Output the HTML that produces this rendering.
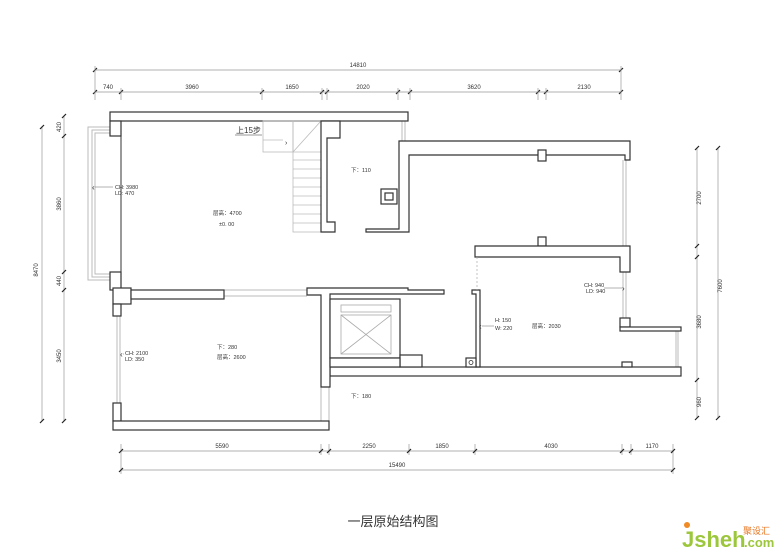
<!DOCTYPE html>
<html><head><meta charset="utf-8"><style>
body{margin:0;background:#fff}
svg{display:block}
text{font-family:"Liberation Sans","Noto Sans CJK SC",sans-serif;fill:#333}
.w{fill:#fff;stroke:#333;stroke-width:1.2}
.d{stroke:#999;stroke-width:0.7;fill:none}
.t{stroke:#222;stroke-width:1.2}
.g{stroke:#bbb;stroke-width:1;fill:none}
</style></head><body>
<svg width="780" height="550" viewBox="0 0 780 550">
<!-- top dims -->
<line class="d" x1="95" y1="70" x2="621" y2="70"/>
<line class="d" x1="95" y1="92" x2="621" y2="92"/>
<g class="t">
<line x1="93" y1="72" x2="97" y2="68"/><line x1="619" y1="72" x2="623" y2="68"/>
<line x1="93" y1="94" x2="97" y2="90"/><line x1="119" y1="94" x2="123" y2="90"/><line x1="260" y1="94" x2="264" y2="90"/><line x1="320" y1="94" x2="324" y2="90"/><line x1="325" y1="94" x2="329" y2="90"/><line x1="396" y1="94" x2="400" y2="90"/><line x1="408" y1="94" x2="412" y2="90"/><line x1="536" y1="94" x2="540" y2="90"/><line x1="544" y1="94" x2="548" y2="90"/><line x1="619" y1="94" x2="623" y2="90"/>
</g>
<g class="d"><line x1="95" y1="66" x2="95" y2="100"/><line x1="621" y1="66" x2="621" y2="100"/><line x1="121" y1="88" x2="121" y2="100"/><line x1="262" y1="88" x2="262" y2="100"/><line x1="322" y1="88" x2="322" y2="100"/><line x1="327" y1="88" x2="327" y2="100"/><line x1="398" y1="88" x2="398" y2="100"/><line x1="410" y1="88" x2="410" y2="100"/><line x1="538" y1="88" x2="538" y2="100"/><line x1="546" y1="88" x2="546" y2="100"/></g>
<g font-size="6" text-anchor="middle">
<text x="358" y="67">14810</text><text x="108" y="89">740</text><text x="192" y="89">3960</text><text x="292" y="89">1650</text><text x="363" y="89">2020</text><text x="474" y="89">3620</text><text x="584" y="89">2130</text>
</g>
<!-- left dims -->
<line class="d" x1="42" y1="127" x2="42" y2="421"/>
<line class="d" x1="64" y1="116" x2="64" y2="421"/>
<g class="t"><line x1="40" y1="129" x2="44" y2="125"/><line x1="40" y1="423" x2="44" y2="419"/><line x1="62" y1="118" x2="66" y2="114"/><line x1="62" y1="138" x2="66" y2="134"/><line x1="62" y1="274" x2="66" y2="270"/><line x1="62" y1="292" x2="66" y2="288"/><line x1="62" y1="423" x2="66" y2="419"/></g>
<g font-size="6" text-anchor="middle">
<text transform="translate(38,270) rotate(-90)">8470</text>
<text transform="translate(61,127) rotate(-90)">420</text>
<text transform="translate(61,204) rotate(-90)">3860</text>
<text transform="translate(61,281) rotate(-90)">440</text>
<text transform="translate(61,356) rotate(-90)">3450</text>
</g>
<!-- right dims -->
<line class="d" x1="697" y1="148" x2="697" y2="418"/>
<line class="d" x1="718" y1="148" x2="718" y2="418"/>
<g class="t"><line x1="695" y1="150" x2="699" y2="146"/><line x1="695" y1="248" x2="699" y2="244"/><line x1="695" y1="259" x2="699" y2="255"/><line x1="695" y1="382" x2="699" y2="378"/><line x1="695" y1="420" x2="699" y2="416"/><line x1="716" y1="150" x2="720" y2="146"/><line x1="716" y1="420" x2="720" y2="416"/></g>
<g font-size="6" text-anchor="middle">
<text transform="translate(701,198) rotate(-90)">2700</text>
<text transform="translate(701,322) rotate(-90)">3680</text>
<text transform="translate(701,402) rotate(-90)">960</text>
<text transform="translate(722,286) rotate(-90)">7600</text>
</g>
<!-- bottom dims -->
<line class="d" x1="121" y1="451" x2="673" y2="451"/>
<line class="d" x1="121" y1="470" x2="673" y2="470"/>
<g class="d"><line x1="121" y1="444" x2="121" y2="474"/><line x1="321" y1="444" x2="321" y2="455"/><line x1="329" y1="444" x2="329" y2="455"/><line x1="409" y1="444" x2="409" y2="455"/><line x1="475" y1="444" x2="475" y2="455"/><line x1="622" y1="444" x2="622" y2="455"/><line x1="631" y1="444" x2="631" y2="455"/><line x1="673" y1="444" x2="673" y2="474"/></g>
<g class="t"><line x1="119" y1="453" x2="123" y2="449"/><line x1="319" y1="453" x2="323" y2="449"/><line x1="327" y1="453" x2="331" y2="449"/><line x1="407" y1="453" x2="411" y2="449"/><line x1="473" y1="453" x2="477" y2="449"/><line x1="620" y1="453" x2="624" y2="449"/><line x1="629" y1="453" x2="633" y2="449"/><line x1="671" y1="453" x2="675" y2="449"/><line x1="119" y1="472" x2="123" y2="468"/><line x1="671" y1="472" x2="675" y2="468"/></g>
<g font-size="6" text-anchor="middle">
<text x="222" y="448">5590</text><text x="369" y="448">2250</text><text x="442" y="448">1850</text><text x="551" y="448">4030</text><text x="652" y="448">1170</text><text x="397" y="467">15490</text>
</g>
<!-- windows -->
<g class="g">
<path d="M110,127 H88 V280 H110"/><path d="M110,130 H92 V277 H110"/><path d="M110,133 H95 V274 H110"/>
<line x1="117" y1="316" x2="117" y2="403"/><line x1="120" y1="316" x2="120" y2="403"/>
<line x1="623" y1="160" x2="623" y2="246"/><line x1="626" y1="160" x2="626" y2="246"/>
<line x1="623" y1="272" x2="623" y2="319"/><line x1="626" y1="272" x2="626" y2="319"/>
<line x1="676" y1="331" x2="676" y2="367"/><line x1="678" y1="331" x2="678" y2="367"/>
<line x1="402" y1="121" x2="402" y2="141"/><line x1="405" y1="121" x2="405" y2="141"/>
<line x1="224" y1="290" x2="307" y2="290"/><line x1="224" y1="296" x2="307" y2="296"/>
<line x1="321" y1="387" x2="321" y2="421"/><line x1="329" y1="376" x2="329" y2="421"/>
</g>
<line x1="121" y1="121" x2="121" y2="272" stroke="#333" stroke-width="1"/>
<!-- walls -->
<rect class="w" x="110" y="112" width="298" height="9"/>
<rect class="w" x="110" y="121" width="11" height="15"/>
<rect class="w" x="110" y="272" width="11" height="18"/>
<rect class="w" x="113" y="288" width="18" height="16"/>
<rect class="w" x="113" y="304" width="8" height="12"/>
<rect class="w" x="131" y="290" width="93" height="9"/>
<rect class="w" x="113" y="403" width="8" height="18"/>
<rect class="w" x="113" y="421" width="216" height="9"/>
<!-- stair -->
<g stroke="#bbb" stroke-width="0.8" fill="none">
<rect x="263" y="121" width="30" height="31"/><line x1="263" y1="140" x2="283" y2="140"/>
<line x1="293" y1="152" x2="321" y2="121"/>
<rect x="293" y="121" width="28" height="111"/>
<line x1="293" y1="152" x2="321" y2="152"/><line x1="293" y1="160" x2="321" y2="160"/><line x1="293" y1="169" x2="321" y2="169"/><line x1="293" y1="178" x2="321" y2="178"/><line x1="293" y1="187" x2="321" y2="187"/><line x1="293" y1="196" x2="321" y2="196"/><line x1="293" y1="205" x2="321" y2="205"/><line x1="293" y1="214" x2="321" y2="214"/><line x1="293" y1="223" x2="321" y2="223"/>
</g>
<text x="285" y="145" font-size="7">›</text>
<path class="w" d="M321,121 H340 V138 H327 V222 H335 V232 H321 Z"/>
<path class="w" d="M399,141 H630 V160 H625 V155 H409 V232 H366 V229 H399 Z"/>
<rect class="w" x="381" y="189" width="16" height="15"/><rect class="w" x="385" y="193" width="8" height="7"/>
<rect class="w" x="538" y="150" width="8" height="11"/>
<rect class="w" x="538" y="237" width="8" height="9"/>
<path class="w" d="M475,246 H630 V272 H620 V257 H475 Z"/>
<rect class="w" x="620" y="318" width="10" height="9"/>
<rect class="w" x="620" y="327" width="61" height="4"/>
<rect class="w" x="330" y="367" width="351" height="9"/>
<rect class="w" x="622" y="362" width="10" height="5"/>
<path class="w" d="M472,290 H480 V367 H476 V294 H472 Z"/>
<rect class="w" x="466" y="358" width="10" height="9"/><circle cx="471" cy="362.5" r="2" fill="none" stroke="#333" stroke-width="0.8"/>
<line x1="477" y1="257" x2="477" y2="290" stroke="#aaa" stroke-dasharray="2,2" stroke-width="0.7"/>
<!-- elevator -->
<path class="w" d="M307,288 H408 V290 H444 V294 H330 V387 H321 V295 H307 Z"/>
<rect class="w" x="330" y="299" width="70" height="59"/>
<rect class="w" x="400" y="355" width="22" height="12"/>
<rect x="341" y="305" width="50" height="7" fill="none" stroke="#aaa" stroke-width="0.8"/>
<rect x="341" y="315" width="50" height="39" fill="none" stroke="#aaa" stroke-width="0.8"/>
<line x1="341" y1="315" x2="391" y2="354" stroke="#aaa" stroke-width="0.8"/><line x1="391" y1="315" x2="341" y2="354" stroke="#aaa" stroke-width="0.8"/>
<rect class="w" x="330" y="358" width="70" height="9"/>
<!-- labels -->
<g font-size="5.5">
<text x="115" y="189">CH: 3980</text><text x="115" y="195">LD: 470</text>
<text x="213" y="215">层高：4700</text><text x="219" y="226">±0. 00</text>
<text x="351" y="172">下：110</text>
<text x="125" y="355">CH: 2100</text><text x="125" y="361">LD: 350</text>
<text x="217" y="349">下：280</text><text x="217" y="359">层高：2600</text>
<text x="351" y="398">下：180</text>
<text x="584" y="287">CH: 940</text><text x="586" y="293">LD: 940</text>
<text x="495" y="322">H: 150</text><text x="495" y="330">W: 220</text>
<text x="532" y="328">层高：2030</text>
</g>
<text x="236" y="133" font-size="8" fill="#222">上15步</text>
<line x1="235" y1="135" x2="262" y2="135" stroke="#333" stroke-width="0.6"/>
<g stroke="#666" stroke-width="0.5"><line x1="95" y1="187" x2="113" y2="187"/><line x1="123" y1="354" x2="124" y2="354"/><line x1="604" y1="288" x2="622" y2="288"/><line x1="482" y1="326" x2="494" y2="326"/></g>
<g font-size="8" fill="#222"><text x="92" y="190">‹</text><text x="120" y="357">‹</text><text x="622" y="291">›</text><text x="479" y="329">‹</text></g>
<text x="393" y="526" font-size="13" text-anchor="middle" font-family="'Liberation Serif','Noto Serif CJK SC',serif" fill="#222">一层原始结构图</text>
<!-- logo -->
<circle cx="687" cy="525" r="3" fill="#f08a24"/>
<text x="682" y="547" font-size="22" font-weight="bold" fill="#9cc63b" style="fill:#9cc63b">Jsheh</text>
<text x="744" y="547" font-size="13" font-weight="bold" style="fill:#9cc63b">.com</text>
<text x="743" y="534" font-size="9" style="fill:#e8741e">聚设汇</text>
</svg>
</body></html>
